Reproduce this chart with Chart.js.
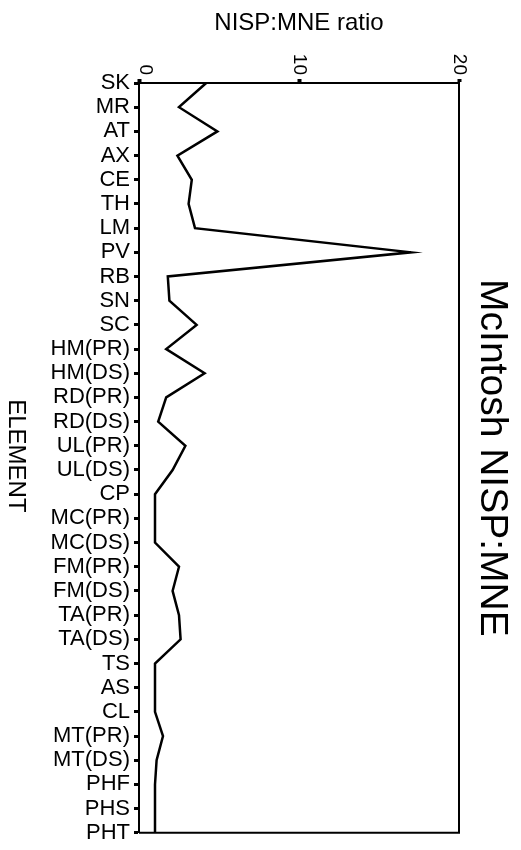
<!DOCTYPE html>
<html>
<head>
<meta charset="utf-8">
<script src="https://cdn.jsdelivr.net/npm/chart.js@4"></script>
<style>
  html, body { margin: 0; padding: 0; background: #fff; }
  #wrap { width: 521px; height: 850px; }
</style>
</head>
<body>
<div id="wrap"><canvas id="c" width="521" height="850"></canvas></div>
<script>
const elements = ["SK","MR","AT","AX","CE","TH","LM","PV","RB","SN","SC","HM(PR)","HM(DS)","RD(PR)","RD(DS)","UL(PR)","UL(DS)","CP","MC(PR)","MC(DS)","FM(PR)","FM(DS)","TA(PR)","TA(DS)","TS","AS","CL","MT(PR)","MT(DS)","PHF","PHS","PHT"];
const ratios = [4.2,2.5,4.9,2.4,3.3,3.1,3.5,17.0,1.8,1.9,3.6,1.7,4.1,1.7,1.2,2.9,2.1,1.0,1.0,1.0,2.5,2.1,2.5,2.6,1.0,1.0,1.0,1.5,1.1,1.0,1.0,1.0];
const valueTicks = [0, 10, 20];
const chartTitle = "McIntosh NISP:MNE";
const valueAxisTitle = "NISP:MNE ratio";
const categoryAxisTitle = "ELEMENT";

const FONT = "'Liberation Sans', Arial, sans-serif";

const textPlugin = {
  id: 'rotatedText',
  afterDraw(chart) {
    const ctx = chart.ctx;
    const a = chart.chartArea;
    const xs = chart.scales.x;
    ctx.save();
    // frame (right & bottom borders)
    ctx.strokeStyle = '#000';
    ctx.lineWidth = 2;
    ctx.beginPath();
    ctx.moveTo(a.left, a.top);
    ctx.lineTo(a.right, a.top);
    ctx.lineTo(a.right, a.bottom);
    ctx.lineTo(a.left, a.bottom);
    ctx.stroke();
    // value tick labels, rotated clockwise
    ctx.fillStyle = '#000';
    ctx.font = '19px ' + FONT;
    valueTicks.forEach((v, i) => {
      const px = xs.getPixelForValue(v);
      ctx.save();
      ctx.translate(px, a.top - 8);
      ctx.rotate(Math.PI / 2);
      ctx.textAlign = 'right';
      ctx.textBaseline = i === 0 ? 'alphabetic' : 'middle';
      ctx.fillText(String(v), 0, i === 0 ? -1 : 0);
      ctx.restore();
    });
    // value axis title
    ctx.font = '24px ' + FONT;
    ctx.textAlign = 'center';
    ctx.textBaseline = 'middle';
    ctx.fillText(valueAxisTitle, (a.left + a.right) / 2, 23);
    // category axis title
    const cy = (a.top + a.bottom) / 2;
    ctx.save();
    ctx.translate(16, cy - 2);
    ctx.rotate(Math.PI / 2);
    ctx.font = '24px ' + FONT;
    ctx.textAlign = 'center';
    ctx.textBaseline = 'middle';
    ctx.fillText(categoryAxisTitle, 0, 0);
    ctx.restore();
    // chart title
    ctx.save();
    ctx.translate(492, cy);
    ctx.rotate(Math.PI / 2);
    ctx.font = '39px ' + FONT;
    ctx.textAlign = 'center';
    ctx.textBaseline = 'middle';
    ctx.fillText(chartTitle, 0, 0);
    ctx.restore();
    ctx.restore();
  }
};

new Chart(document.getElementById('c'), {
  type: 'line',
  data: {
    labels: elements,
    datasets: [{
      data: ratios,
      borderColor: '#000',
      borderWidth: 2.5,
      pointRadius: 0,
      tension: 0,
      fill: false
    }]
  },
  options: {
    indexAxis: 'y',
    responsive: false,
    animation: false,
    devicePixelRatio: 1,
    layout: { padding: { left: 0, top: 0, right: 62, bottom: 14 } },
    plugins: { legend: { display: false }, tooltip: { enabled: false }, title: { display: false } },
    scales: {
      x: {
        type: 'linear',
        position: 'top',
        min: 0,
        max: 20,
        afterBuildTicks(scale) { scale.ticks = valueTicks.map(v => ({ value: v })); },
        afterFit(scale) { scale.height = 83; },
        ticks: { display: false },
        grid: { drawOnChartArea: false, drawTicks: true, tickLength: 4, tickWidth: 4, tickColor: '#000', color: '#000' },
        border: { display: true, color: '#000', width: 2 }
      },
      y: {
        type: 'category',
        position: 'left',
        offset: false,
        afterFit(scale) { scale.width = 139; },
        ticks: { color: '#000', font: { family: FONT, size: 22 }, padding: 4, autoSkip: false },
        grid: { drawOnChartArea: false, drawTicks: true, tickLength: 5, tickWidth: 3, tickColor: '#000', color: '#000' },
        border: { display: true, color: '#000', width: 2 }
      }
    }
  },
  plugins: [textPlugin]
});
</script>
</body>
</html>
